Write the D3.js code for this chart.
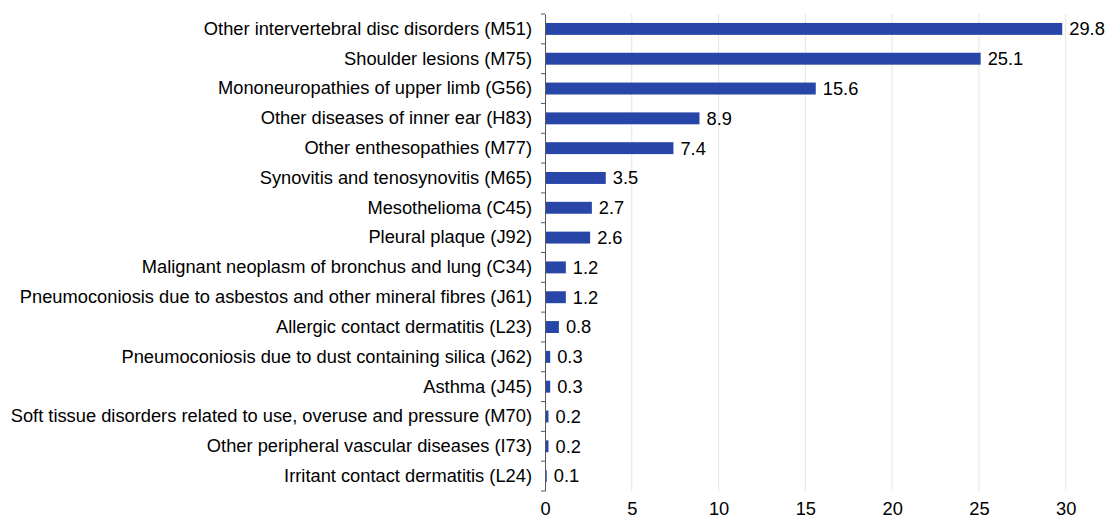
<!DOCTYPE html>
<html>
<head>
<meta charset="utf-8">
<script src="https://cdn.jsdelivr.net/npm/d3@7"></script>
<style>
  body { margin: 0; background: #fff; }
  text { font-family: "Liberation Sans", Arial, sans-serif; fill: #000; }
</style>
</head>
<body>
<div id="chart"></div>
<script>
// Data
var categories = [
    "Other intervertebral disc disorders (M51)",
    "Shoulder lesions (M75)",
    "Mononeuropathies of upper limb (G56)",
    "Other diseases of inner ear (H83)",
    "Other enthesopathies (M77)",
    "Synovitis and tenosynovitis (M65)",
    "Mesothelioma (C45)",
    "Pleural plaque (J92)",
    "Malignant neoplasm of bronchus and lung (C34)",
    "Pneumoconiosis due to asbestos and other mineral fibres (J61)",
    "Allergic contact dermatitis (L23)",
    "Pneumoconiosis due to dust containing silica (J62)",
    "Asthma (J45)",
    "Soft tissue disorders related to use, overuse and pressure (M70)",
    "Other peripheral vascular diseases (I73)",
    "Irritant contact dermatitis (L24)"
];
var values = [29.8, 25.1, 15.6, 8.9, 7.4, 3.5, 2.7, 2.6, 1.2, 1.2, 0.8, 0.3, 0.3, 0.2, 0.2, 0.1];
var xTicks = [0, 5, 10, 15, 20, 25, 30];

// Size
var width = 1108, height = 520;
var margin = { top: 14, right: 42, bottom: 29, left: 545 };
var innerW = width - margin.left - margin.right;
var innerH = height - margin.top - margin.bottom;
var fontSize = "18.3px";

var svg = d3.select("#chart").append("svg")
    .attr("width", width)
    .attr("height", height);

var g = svg.append("g")
    .attr("transform", "translate(" + margin.left + "," + margin.top + ")");

var x = d3.scaleLinear().domain([0, 30]).range([0, 520.7]);
var y = d3.scaleBand().domain(categories).range([0, innerH]).paddingInner(0.6).paddingOuter(0.3);
var yb = d3.scaleBand().domain(categories).range([0, innerH]);

// gridlines
g.selectAll(".grid")
    .data(xTicks.filter(function(d) { return d > 0; }))
    .enter().append("line")
    .attr("x1", d => x(d)).attr("x2", d => x(d))
    .attr("y1", 0).attr("y2", innerH)
    .style("stroke", "#e4e4e4")
    .style("stroke-width", 1);

// bars
g.selectAll(".bar")
    .data(values)
    .enter().append("rect")
    .attr("x", 0)
    .attr("y", (d, i) => y(categories[i]))
    .attr("width", d => x(d))
    .attr("height", y.bandwidth())
    .style("fill", "#2845a8");

// value labels
g.selectAll(".val")
    .data(values)
    .enter().append("text")
    .attr("x", d => x(d) + 7)
    .attr("y", (d, i) => y(categories[i]) + y.bandwidth() / 2)
    .attr("dy", "0.35em")
    .style("font-size", fontSize)
    .text(d => d);

// category axis
var yAxis = g.append("g")
    .call(d3.axisLeft(yb).tickSize(0).tickPadding(13));
yAxis.select(".domain").style("stroke", "#595959");
yAxis.selectAll("text").style("font-size", fontSize).style("fill", "#000")
    .style("font-family", "'Liberation Sans', Arial, sans-serif");

// band boundary ticks
g.selectAll(".btick")
    .data(categories.concat(["end"]))
    .enter().append("line")
    .attr("x1", -4).attr("x2", 0)
    .attr("y1", (d, i) => i * yb.step())
    .attr("y2", (d, i) => i * yb.step())
    .style("stroke", "#595959");

// x axis labels
var xAxis = g.append("g")
    .attr("transform", "translate(0," + innerH + ")")
    .call(d3.axisBottom(x).tickValues(xTicks).tickSize(0).tickPadding(11));
xAxis.select(".domain").remove();
xAxis.selectAll("text").style("font-size", fontSize).style("fill", "#000")
    .style("font-family", "'Liberation Sans', Arial, sans-serif");
</script>
</body>
</html>
